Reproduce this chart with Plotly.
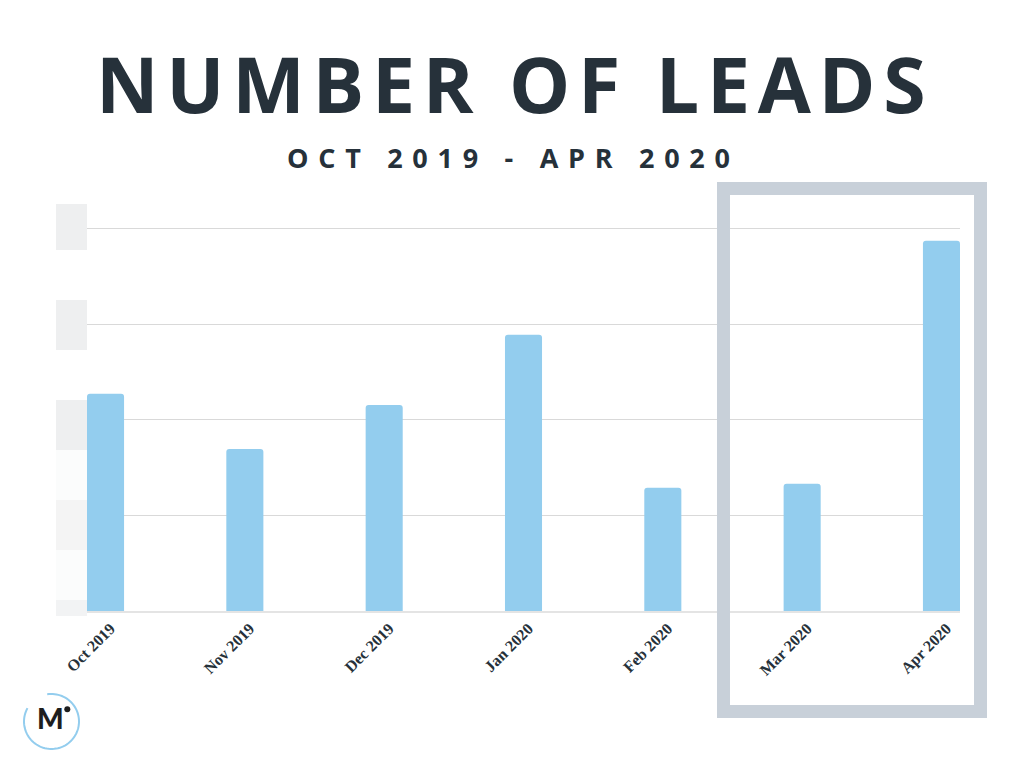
import numpy as np
import plotly.graph_objects as go

# ---- data ----
months = ["Oct 2019", "Nov 2019", "Dec 2019", "Jan 2020", "Feb 2020", "Mar 2020", "Apr 2020"]
leads = [113.6, 84.7, 107.7, 144.5, 64.5, 66.6, 193.7]
y_ticks = [0, 50, 100, 150, 200]

title_text = "NUMBER OF LEADS"
subtitle_text = "OCT 2019 - APR 2020"

# ---- layout geometry (pixels) ----
W, H = 1024, 768
L, R, T, B = 87, 64, 200, 157
PW, PH = W - L - R, H - T - B


def px(x):
    return (x - L) / PW


def py(y):
    return (H - B - y) / PH


def spaced(s, gap="\u2009", word="\u00a0\u00a0"):
    out = []
    for w in s.split(" "):
        out.append(gap.join(list(w)))
    return (gap + word + gap).join(out)


fig = go.Figure()
fig.add_trace(go.Bar(
    x=months, y=leads,
    marker=dict(color="#93CDEE", cornerradius=3, line=dict(width=0)),
    width=0.266,
    hoverinfo="x+y",
))

shapes = []
# grey blocks on left (masked y labels)
blocks = [(204, 250, "#EEEFF0"), (300, 350, "#EEEFF0"), (400, 450, "#EEEFF0"),
          (450, 500, "#FBFCFC"), (500, 550, "#F4F4F4"), (550, 600, "#FBFCFC"),
          (600, 616, "#F2F3F4")]
for y0, y1, c in blocks:
    shapes.append(dict(type="rect", xref="paper", yref="paper",
                       x0=px(56), x1=px(87), y0=py(y1), y1=py(y0),
                       fillcolor=c, line=dict(width=0), layer="below"))

# highlight frame
shapes.append(dict(type="rect", xref="paper", yref="paper",
                   x0=px(723.5), x1=px(980.5), y0=py(711.5), y1=py(188.5),
                   line=dict(color="#C8D0D9", width=13), fillcolor="rgba(0,0,0,0)",
                   layer="above"))

# logo arc
cx, cy, r = 51.5, 721.5, 27.5
ang = np.deg2rad(np.linspace(151, 459, 80))
pts = [(px(cx + r * np.cos(a)), py(cy - r * np.sin(a))) for a in ang]
path = "M " + " L ".join(f"{x:.5f},{y:.5f}" for x, y in pts)
shapes.append(dict(type="path", xref="paper", yref="paper", path=path,
                   line=dict(color="#93CDEE", width=2)))
# logo dot
shapes.append(dict(type="circle", xref="paper", yref="paper",
                   x0=px(64.3), x1=px(70.3), y0=py(712.3), y1=py(706.3),
                   fillcolor="#1E1E1E", line=dict(width=0)))

annotations = [
    dict(text=spaced(title_text, gap="\u200a", word="\u00a0"), xref="paper", yref="paper",
         x=px(511), y=py(83), xanchor="center", yanchor="middle", showarrow=False,
         font=dict(family="Open Sans", size=77, color="#26313A", weight=700)),
    dict(text=spaced(subtitle_text, gap="\u00a0\u200a", word="\u00a0"), xref="paper", yref="paper",
         x=px(508), y=py(157), xanchor="center", yanchor="middle", showarrow=False,
         font=dict(family="Open Sans", size=27, color="#26313A", weight=700)),
    dict(text="M", xref="paper", yref="paper",
         x=px(50), y=py(718), xanchor="center", yanchor="middle", showarrow=False,
         font=dict(family="Lato", size=28, color="#1E1E1E", weight=900)),
]

fig.update_layout(
    width=W, height=H,
    margin=dict(l=L, r=R, t=T, b=B, pad=0),
    paper_bgcolor="white", plot_bgcolor="white",
    showlegend=False,
    bargap=0.7,
    shapes=shapes,
    annotations=annotations,
    xaxis=dict(
        type="category", range=[-0.133, 6.133],
        tickangle=-45, tickfont=dict(family="Liberation Serif", size=16, color="#26313A", weight=700),
        showgrid=False, showline=True, linecolor="#E4E4E4", linewidth=2,
        ticks="", ticklen=0, ticklabelshift=5,
    ),
    yaxis=dict(
        range=[0, 215], tickvals=y_ticks, showticklabels=False,
        showgrid=True, gridcolor="#D9D9D9", gridwidth=1,
        zeroline=False, showline=False, ticks="",
    ),
)

fig.write_html("out.html")
